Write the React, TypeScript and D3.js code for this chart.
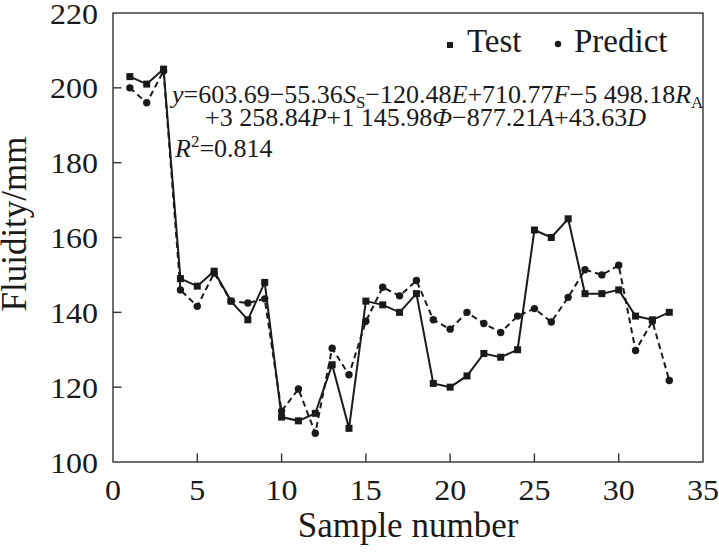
import React from "react";
import * as d3 from "d3";

const samples = d3.range(1, 34);
const testValues = [203, 201, 205, 149, 147, 151, 143, 138, 148, 112, 111, 113, 126, 109, 143, 142, 140, 145, 121, 120, 123, 129, 128, 130, 162, 160, 165, 145, 145, 146, 139, 138, 140];
const predictValues = [200, 196, 204.5, 146, 141.6, 150.5, 143, 142.5, 143.6, 113.6, 119.5, 107.7, 130.4, 123.3, 137.6, 146.7, 144.4, 148.5, 138, 135.5, 140, 137, 134.6, 139, 141, 137.4, 144, 151.4, 150, 152.6, 129.8, 137.6, 121.8];
const xTicks = [0, 5, 10, 15, 20, 25, 30, 35];
const yTicks = [100, 120, 140, 160, 180, 200, 220];
const seriesNames = ["Test", "Predict"];

const W = 719;
const H = 552;
const FONT = "'Liberation Serif', 'Times New Roman', serif";

export default function App() {
  const x = d3.scaleLinear().domain([0, 35]).range([113, 703]);
  const y = d3.scaleLinear().domain([100, 220]).range([462, 13]);
  const line = d3
    .line<[number, number]>()
    .x((d) => x(d[0]))
    .y((d) => y(d[1]));
  const testPts: [number, number][] = samples.map((s, i) => [s, testValues[i]]);
  const predPts: [number, number][] = samples.map((s, i) => [s, predictValues[i]]);
  const [x0, x1] = x.range();
  const [yb, yt] = y.range();
  const ink = "#1a1a1a";
  const sq = 7;
  const digitW = 16;

  return (
    <svg
      width={W}
      height={H}
      viewBox={`0 0 ${W} ${H}`}
      style={{ position: "absolute", left: 0, top: 0, background: "#fff" }}
      fontFamily={FONT}
    >
      <rect x={0} y={0} width={W} height={H} fill="#fff" />
      {/* frame */}
      <rect x={x0} y={yt} width={x1 - x0} height={yb - yt} fill="none" stroke="#333" strokeWidth={1.4} />
      {/* x ticks */}
      {xTicks.map((t) => (
        <g key={"xt" + t}>
          {t > 0 && t < 35 && (
            <line x1={x(t)} x2={x(t)} y1={yb} y2={yb - 8.5} stroke="#333" strokeWidth={1.4} />
          )}
          <text
            x={x(t)}
            y={500}
            fontSize={30}
            textAnchor="middle"
            fill={ink}
            textLength={String(t).length * digitW}
            lengthAdjust="spacingAndGlyphs"
          >
            {t}
          </text>
        </g>
      ))}
      {/* y ticks */}
      {yTicks.map((t) => (
        <g key={"yt" + t}>
          {t > 100 && t < 220 && (
            <line x1={x0} x2={x0 + 8.5} y1={y(t)} y2={y(t)} stroke="#333" strokeWidth={1.4} />
          )}
          <text
            x={98}
            y={y(t) + 10.5}
            fontSize={30}
            textAnchor="end"
            fill={ink}
            textLength={String(t).length * digitW}
            lengthAdjust="spacingAndGlyphs"
          >
            {t}
          </text>
        </g>
      ))}
      {/* axis titles */}
      <text x={408} y={537} fontSize={35} textAnchor="middle" fill={ink}>
        Sample number
      </text>
      <text
        transform={`translate(26,224) rotate(-90)`}
        fontSize={35}
        textAnchor="middle"
        fill={ink}
      >
        Fluidity/mm
      </text>

      {/* predict dashed line */}
      <path d={line(predPts) || ""} fill="none" stroke={ink} strokeWidth={2} strokeDasharray="6,4" />
      {/* test solid line */}
      <path d={line(testPts) || ""} fill="none" stroke={ink} strokeWidth={2} />
      {predPts.map((p, i) => (
        <circle key={"pc" + i} cx={x(p[0])} cy={y(p[1])} r={3.7} fill={ink} />
      ))}
      {testPts.map((p, i) => (
        <rect key={"tr" + i} x={x(p[0]) - sq / 2} y={y(p[1]) - sq / 2} width={sq} height={sq} fill={ink} />
      ))}

      {/* legend */}
      <rect x={447} y={42} width={6} height={6} fill={ink} />
      <text x={467} y={52} fontSize={33} fill={ink}>
        {seriesNames[0]}
      </text>
      <circle cx={558} cy={44} r={3.2} fill={ink} />
      <text x={574} y={52} fontSize={33} fill={ink}>
        {seriesNames[1]}
      </text>

      {/* equation */}
      <text x={172} y={103} fontSize={26} fill={ink}>
        <tspan fontStyle="italic">y</tspan>
        <tspan>=603.69−55.36</tspan>
        <tspan fontStyle="italic">S</tspan>
        <tspan fontSize={17} dy={5}>S</tspan>
        <tspan dy={-5}>−120.48</tspan>
        <tspan fontStyle="italic">E</tspan>
        <tspan>+710.77</tspan>
        <tspan fontStyle="italic">F</tspan>
        <tspan>−5 498.18</tspan>
        <tspan fontStyle="italic">R</tspan>
        <tspan fontSize={17} dy={5}>A</tspan>
      </text>
      <text x={205} y={126} fontSize={26} fill={ink}>
        <tspan>+3 258.84</tspan>
        <tspan fontStyle="italic">P</tspan>
        <tspan>+1 145.98</tspan>
        <tspan fontStyle="italic">Φ</tspan>
        <tspan>−877.21</tspan>
        <tspan fontStyle="italic">A</tspan>
        <tspan>+43.63</tspan>
        <tspan fontStyle="italic">D</tspan>
      </text>
      <text x={175} y={157} fontSize={26} fill={ink}>
        <tspan fontStyle="italic">R</tspan>
        <tspan fontSize={17} dy={-10}>2</tspan>
        <tspan dy={10}>=0.814</tspan>
      </text>
    </svg>
  );
}
